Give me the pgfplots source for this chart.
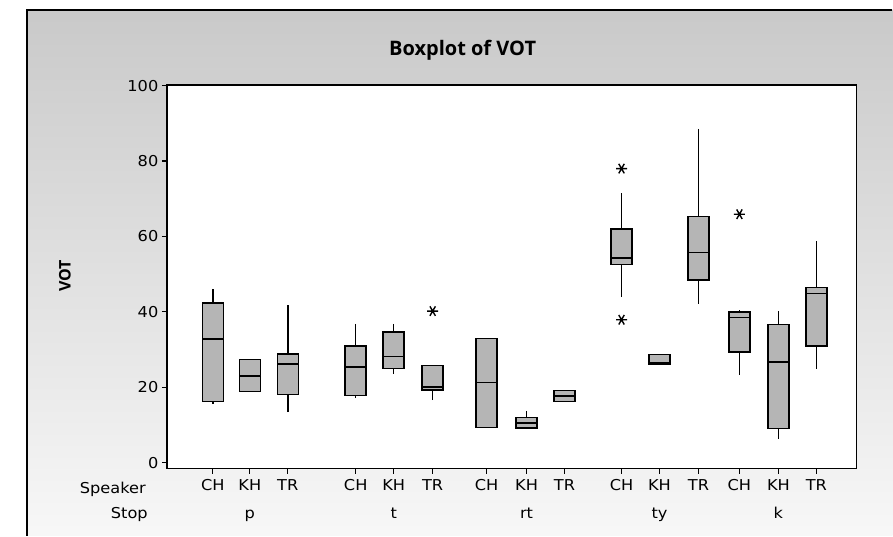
\documentclass[border=0pt]{standalone}
\usepackage{fontspec}
\setmainfont{DejaVu Sans}[FakeStretch=1.08]
\newfontfamily\titlefont{Open Sans}
\usepackage{pgfplots}
\pgfplotsset{compat=1.18}
\usepgfplotslibrary{statistics}

\pgfplotsset{
  mybox/.style={draw=black, line width=1.5pt, fill=gray!58,
    mark=asterisk, mark size=5.5pt, mark options={line width=1.4pt, draw=black, rotate=90}},
}

\begin{document}
\begin{tikzpicture}[x=1pt,y=1pt]
\fill[white] (0,0) rectangle (893,536);
\shade[top color=gray!42, bottom color=gray!6] (27,0) rectangle (893,526);
\draw[black, line width=1.4pt] (27,0) -- (27,526) -- (893,526);
\begin{axis}[
  at={(167pt,67pt)}, anchor=south west,
  scale only axis, width=690pt, height=384pt,
  xmin=167, xmax=857, ymin=-1.6, ymax=100.2,
  axis background/.style={fill=white},
  axis line style={line width=1.4pt, black},
  tick align=outside,
  xtick pos=bottom, ytick pos=left,
  ytick={0,20,40,60,80,100},
  xtick={213,250,288,356,394,433,487,527,565,622,660,699,740,779,817},
  xticklabels={CH,KH,TR,CH,KH,TR,CH,KH,TR,CH,KH,TR,CH,KH,TR},
  major tick length=5pt,
  tick style={line width=1.2pt, black},
  /pgf/number format/assume math mode=true,
  tick label style={font=\fontsize{15}{17}\selectfont},
  xticklabel style={anchor=north, text height=11pt, text depth=3pt, yshift=-2pt},
  boxplot/draw direction=y,
  boxplot/box extend=21,
  boxplot/whisker extend=0,
]
% p
\addplot[mybox, boxplot prepared={draw position=213, lower whisker=15.5, lower quartile=16.2, median=32.8, upper quartile=42.3, upper whisker=46.1}] coordinates {};
\addplot[mybox, boxplot prepared={draw position=250, lower whisker=18.8, lower quartile=18.8, median=23.0, upper quartile=27.3, upper whisker=27.3}] coordinates {};
\addplot[mybox, boxplot prepared={draw position=288, lower whisker=13.3, lower quartile=18.1, median=26.2, upper quartile=28.8, upper whisker=41.7}] coordinates {};
% t
\addplot[mybox, boxplot prepared={draw position=356, lower whisker=17.1, lower quartile=17.8, median=25.3, upper quartile=31.0, upper whisker=36.9}] coordinates {};
\addplot[mybox, boxplot prepared={draw position=394, lower whisker=23.5, lower quartile=25.0, median=28.2, upper quartile=34.6, upper whisker=36.9}] coordinates {};
\addplot[mybox, boxplot prepared={draw position=433, lower whisker=16.6, lower quartile=19.3, median=20.0, upper quartile=25.8, upper whisker=25.8}] coordinates {(433,40.2)};
% rt
\addplot[mybox, boxplot prepared={draw position=487, lower whisker=9.3, lower quartile=9.3, median=21.2, upper quartile=32.9, upper whisker=32.9}] coordinates {};
\addplot[mybox, boxplot prepared={draw position=527, lower whisker=8.9, lower quartile=9.2, median=10.5, upper quartile=12.0, upper whisker=13.8}] coordinates {};
\addplot[mybox, boxplot prepared={draw position=565, lower whisker=16.2, lower quartile=16.2, median=17.7, upper quartile=19.1, upper whisker=19.1}] coordinates {};
% ty
\addplot[mybox, boxplot prepared={draw position=622, lower whisker=43.9, lower quartile=52.5, median=54.3, upper quartile=62.0, upper whisker=71.4}] coordinates {(622,78.0) (622,37.9)};
\addplot[mybox, boxplot prepared={draw position=660, lower whisker=26.1, lower quartile=26.1, median=26.5, upper quartile=28.7, upper whisker=28.7}] coordinates {};
\addplot[mybox, boxplot prepared={draw position=699, lower whisker=42.1, lower quartile=48.5, median=55.8, upper quartile=65.3, upper whisker=88.6}] coordinates {};
% k
\addplot[mybox, boxplot prepared={draw position=740, lower whisker=23.2, lower quartile=29.4, median=38.5, upper quartile=39.9, upper whisker=40.4}] coordinates {(740,65.9)};
\addplot[mybox, boxplot prepared={draw position=779, lower whisker=6.3, lower quartile=9.1, median=26.7, upper quartile=36.7, upper whisker=40.2}] coordinates {};
\addplot[mybox, boxplot prepared={draw position=817, lower whisker=24.9, lower quartile=30.9, median=44.9, upper quartile=46.5, upper whisker=58.8}] coordinates {};
\end{axis}
% titles and labels
\node[font=\titlefont\bfseries\fontsize{20}{22}\selectfont] at (463,486) {Boxplot of VOT};
\node[font=\titlefont\bfseries\fontsize{16}{18}\selectfont, rotate=90] at (65,260) {VOT};
\node[font=\fontsize{15}{17}\selectfont, anchor=base east, inner sep=0pt] at (146,42) {Speaker};
\node[font=\fontsize{15}{17}\selectfont, anchor=base east, inner sep=0pt] at (148,17) {Stop};
\foreach \xx/\lab in {250/p, 394/t, 527/rt, 660/ty, 779/k}
  \node[font=\fontsize{15}{17}\selectfont, anchor=base, inner sep=0pt] at (\xx,17) {\lab};
\end{tikzpicture}
\end{document}
